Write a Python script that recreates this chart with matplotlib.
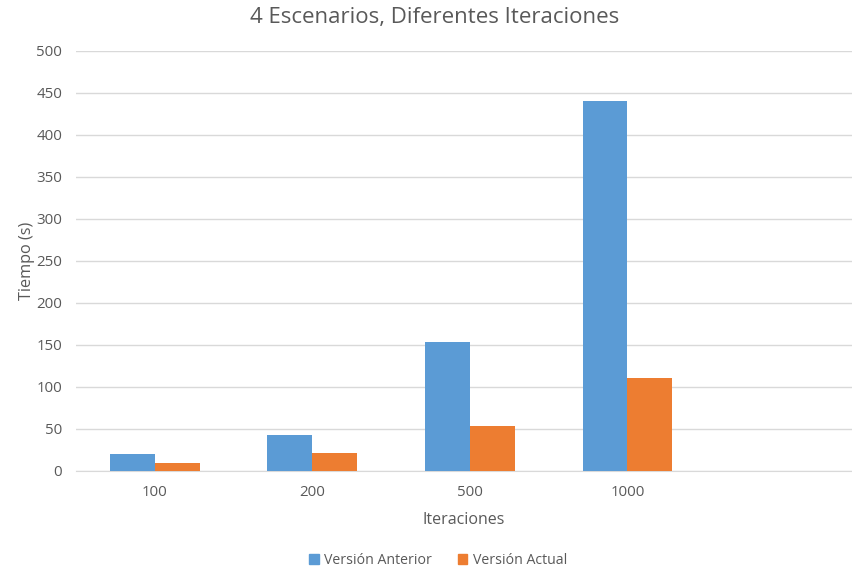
import numpy as np
import matplotlib.pyplot as plt
from matplotlib.patches import Patch

plt.rcParams['font.family'] = ['Open Sans', 'DejaVu Sans']

categories = ['100', '200', '500', '1000', '']
anterior = [20, 42, 153, 440, 0]
actual = [9.5, 21, 53.5, 110.5, 0]
series_names = ['Versión Anterior', 'Versión Actual']

BLUE = '#5B9BD5'
ORANGE = '#ED7D31'
GRAY = '#595959'

fig = plt.figure(figsize=(8.53, 5.69), dpi=100)
ax = fig.add_axes([0.0891, 0.1728, 0.9097, 0.7376])

x = np.arange(len(categories))
w = 0.285
ax.bar(x - w / 2, anterior, w, color=BLUE, zorder=3)
ax.bar(x + w / 2, actual, w, color=ORANGE, zorder=3)

ax.set_xlim(-0.5, 4.425)
ax.set_ylim(0, 500)
ax.set_yticks(range(0, 501, 50))
ax.set_xticks(x[:4])
ax.set_xticklabels(categories[:4])
ax.grid(axis='y', color='#D9D9D9', linewidth=1, zorder=0)
for s in ['top', 'right', 'left']:
    ax.spines[s].set_visible(False)
ax.spines['bottom'].set_color('#D9D9D9')
ax.tick_params(axis='both', length=0, colors=GRAY, labelsize=10.8)
ax.tick_params(axis='y', pad=10)
ax.tick_params(axis='x', pad=10)

ax.set_ylabel('Tiempo (s)', color=GRAY, fontsize=11.7, labelpad=1)
ax.set_xlabel('Iteraciones', color=GRAY, fontsize=11.5, labelpad=9)
fig.text(435 / 853, 1 - 18 / 569, '4 Escenarios, Diferentes Iteraciones',
         ha='center', va='center', color=GRAY, fontsize=16)

handles = [Patch(color=BLUE), Patch(color=ORANGE)]
fig.legend(handles, series_names, loc='center', bbox_to_anchor=(438 / 853, 1 - 560 / 569),
           ncol=2, frameon=False, fontsize=10.2, labelcolor=GRAY,
           handlelength=0.7, handleheight=0.7, handletextpad=0.4, columnspacing=1.8)

fig.savefig('out.png', dpi=100)
